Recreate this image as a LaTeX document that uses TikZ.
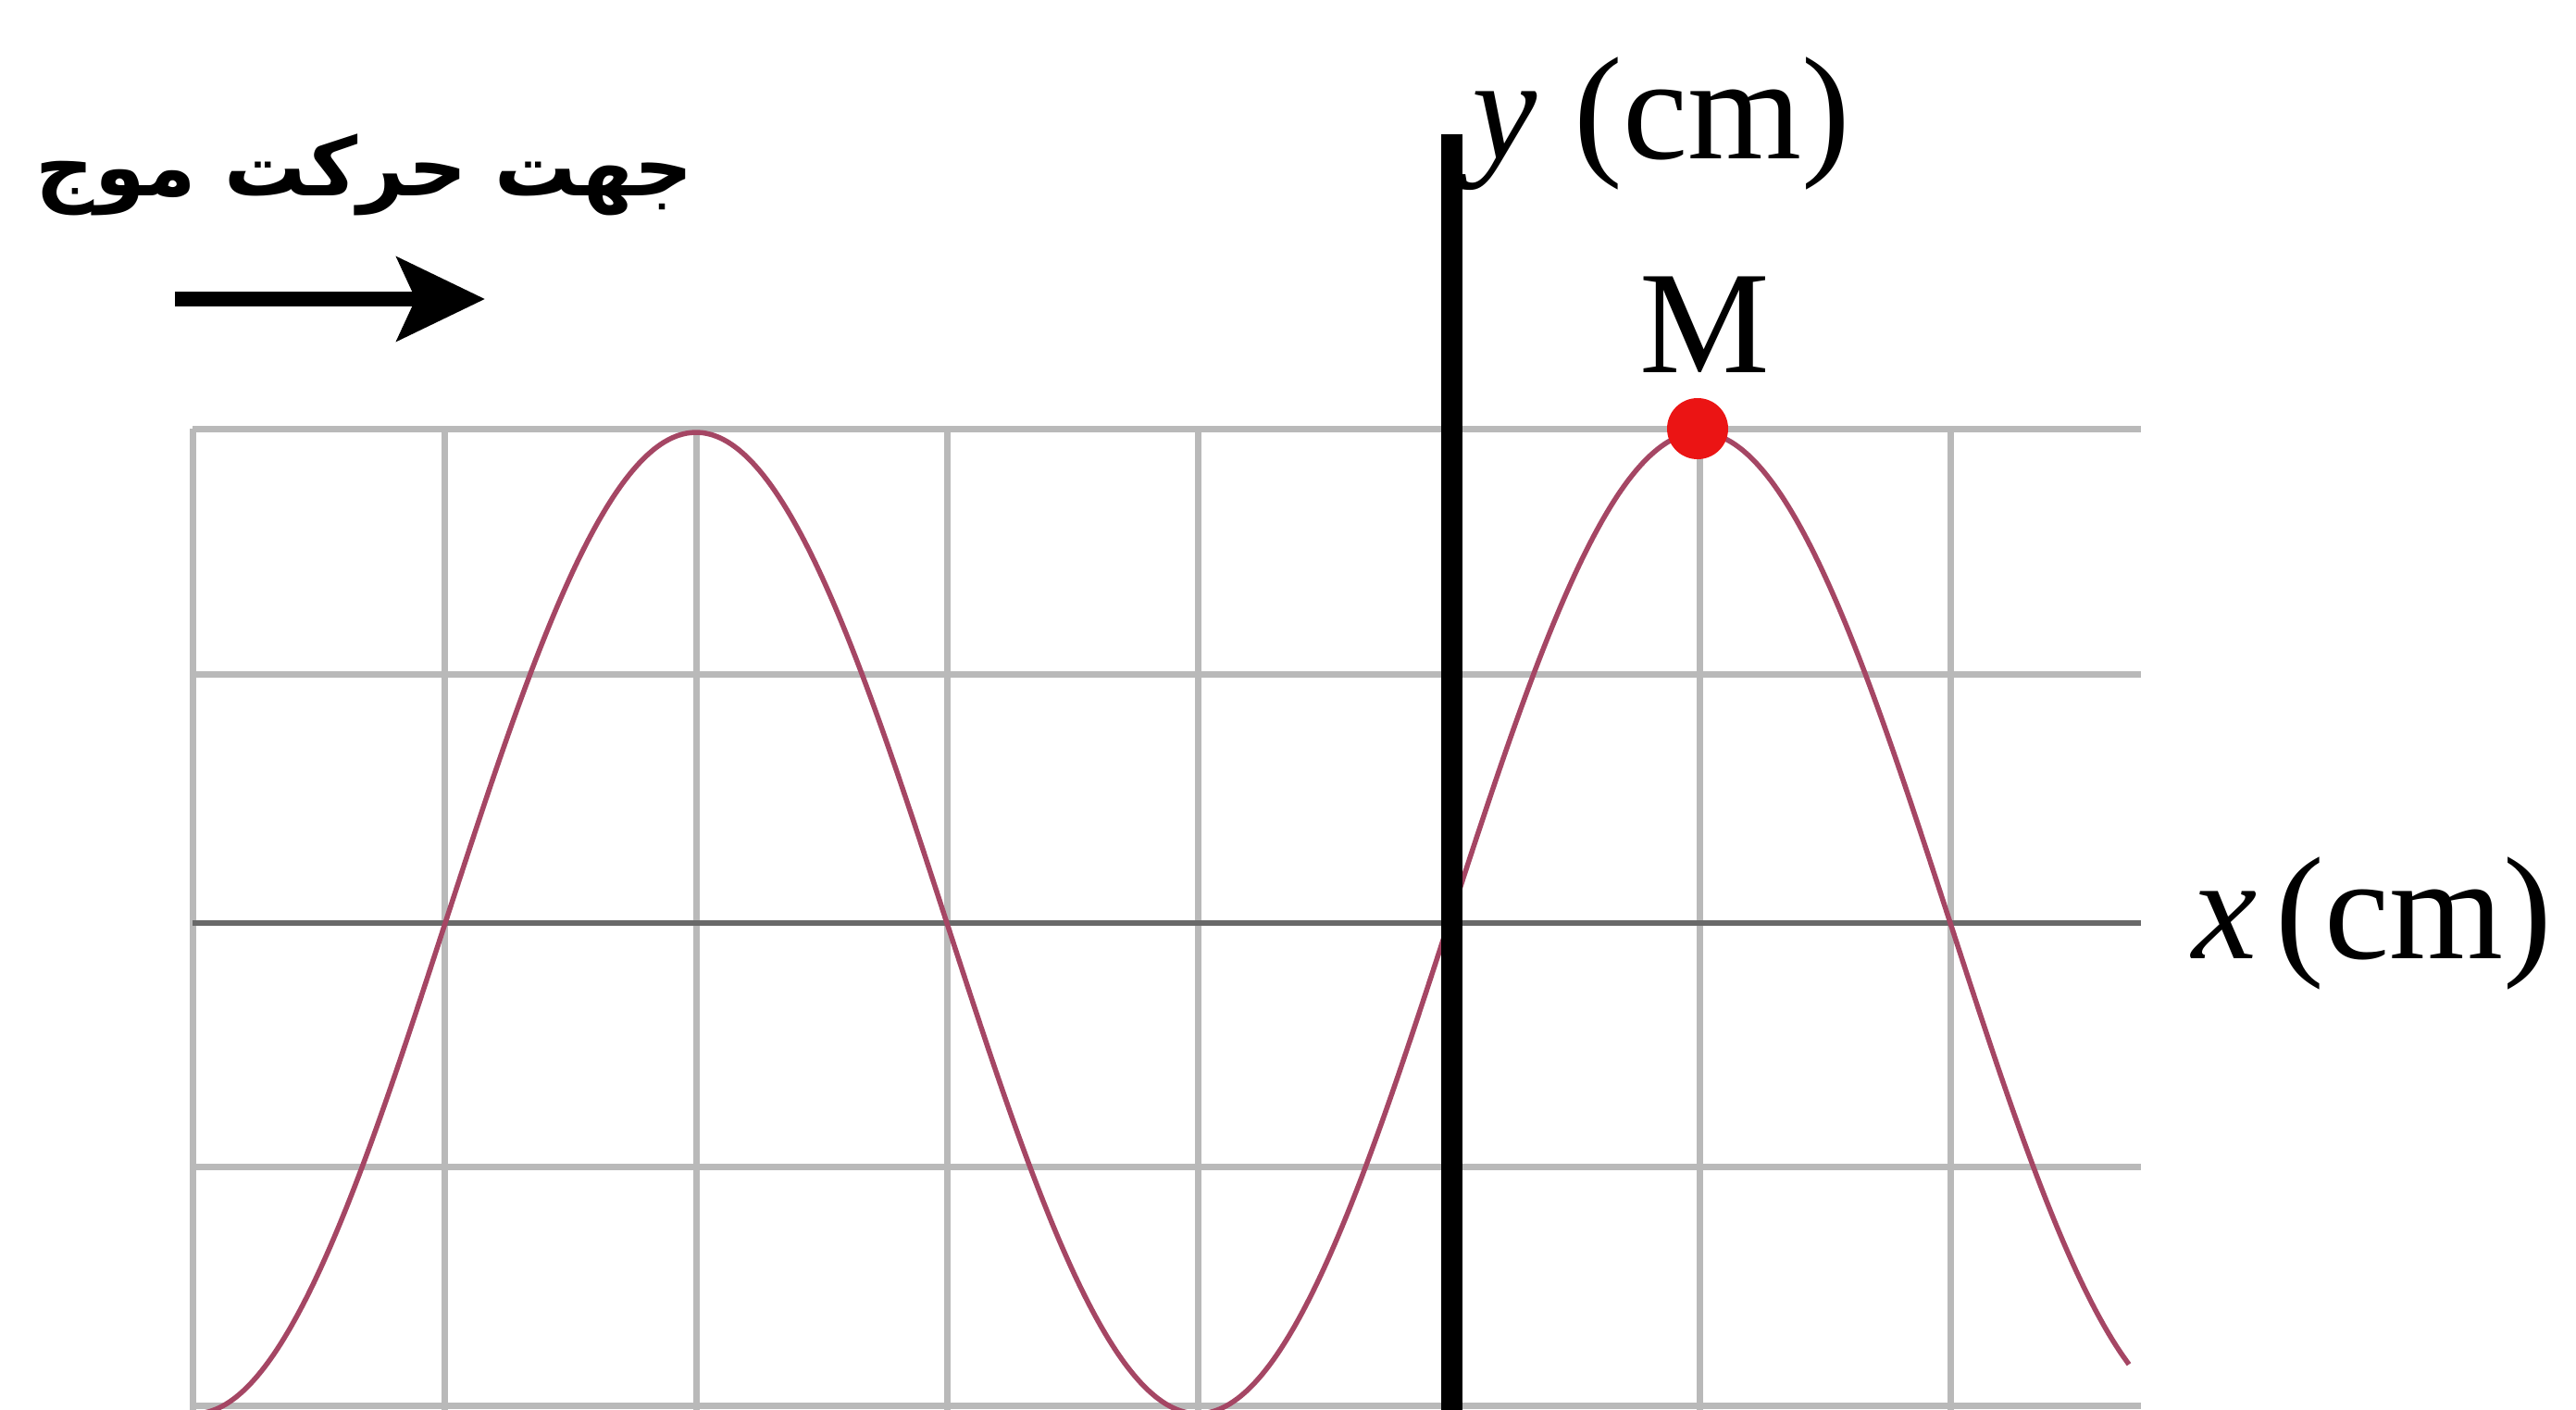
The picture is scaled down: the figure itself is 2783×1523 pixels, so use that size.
\documentclass[tikz,border=0pt]{standalone}
\usepackage{fontspec}
\setmainfont{Liberation Serif}
\newfontfamily\arabicfont[Script=Arabic]{DejaVu Sans}
\TeXXeTstate=1
\usetikzlibrary{arrows.meta}
\definecolor{gridgray}{RGB}{185,185,185}
\definecolor{axisgray}{RGB}{105,105,105}
\definecolor{wavecol}{RGB}{165,70,100}
\definecolor{dotred}{RGB}{235,20,20}
\begin{document}
\begin{tikzpicture}[x=0.1mm,y=-0.1mm,
  gridline/.style={draw=gridgray, line width=0.7mm},
  xaxisline/.style={draw=axisgray, line width=0.6mm},
  yaxisline/.style={draw=black, line width=2.3mm},
  wave/.style={draw=wavecol, line width=0.55mm},
  label/.style={font=\fontsize{45}{50}\selectfont, inner sep=0pt},
  dirarrow/.style={draw=black, line width=1.6mm, -{Stealth[length=9.5mm,width=9mm,inset=2mm]}}]
\useasboundingbox (0,0) rectangle (2783,1523);
\fill[white] (0,0) rectangle (2783,1523);
% grid
\foreach \yy in {463,728,1260,1518}
  \draw[gridline] (208,\yy) -- (2313,\yy);
\foreach \xx in {208,480,752,1023,1294,1836,2107}
  \draw[gridline] (\xx,463) -- (\xx,1523);
% x axis line
\draw[xaxisline] (208,997) -- (2313,997);
% wave
\draw[wave] plot[domain=208:2300, samples=240, smooth] (\x, {997-530*cos((\x-752)/1084*360)});
% y axis
\coordinate (ytop) at (1568,145);
\coordinate (ybot) at (1568,1523);
\draw[yaxisline] (ytop) -- (ybot);
% point M
\node[circle, fill=dotred, minimum size=6.6mm, inner sep=0pt] (dotM) at (1834,463) {};
\node[label, anchor=base] (labM) at (1842,402) {M};
% axis labels
\node[label, anchor=base west] (ylab) at (1590,172) {\textit{y}\hspace{4mm}(cm)};
\node[label, anchor=base west] (xlab) at (2368,1035) {\textit{x}\hspace{2mm}(cm)};
% wave direction
\node[inner sep=0pt, anchor=base, font=\arabicfont\bfseries\fontsize{25}{30}\selectfont] (dirtxt) at (394,212) {\beginR جهت حرکت موج\endR};
\coordinate (arrS) at (189,323);
\coordinate (arrE) at (524,323);
\draw[dirarrow] (arrS) -- (arrE);
\end{tikzpicture}
\end{document}
